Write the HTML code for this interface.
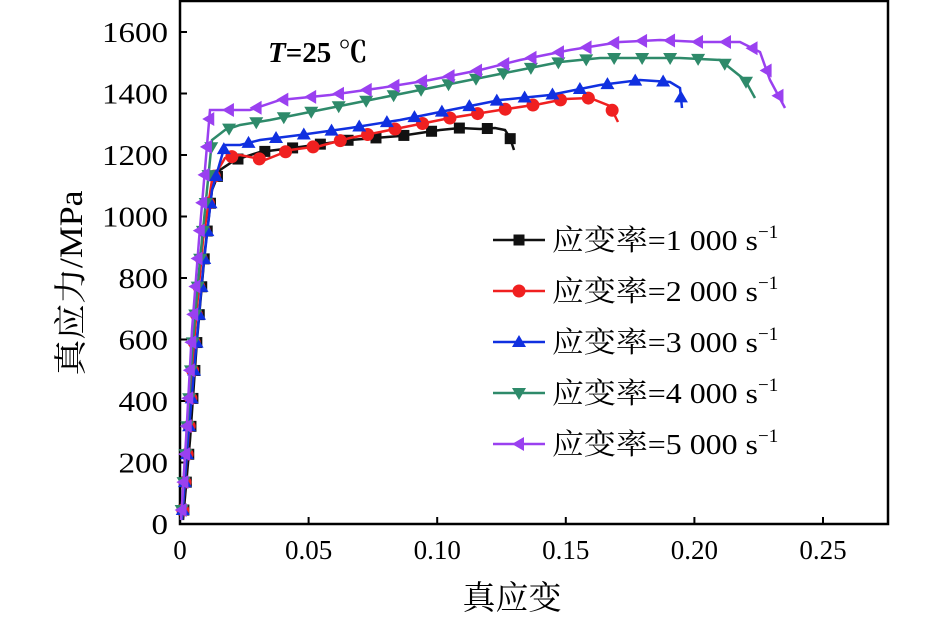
<!DOCTYPE html>
<html><head><meta charset="utf-8"><style>
html,body{margin:0;padding:0;background:#fff;}
svg{display:block;}
text{font-family:"Liberation Serif","Noto Serif CJK SC","Noto Sans CJK SC",serif;fill:#000;}
</style></head><body>
<svg id="s" width="945" height="619" viewBox="0 0 945 619" xmlns="http://www.w3.org/2000/svg">
<rect x="180" y="1" width="708" height="523" fill="none" stroke="#000" stroke-width="2.5"/>
<g id="ticks" stroke="#000" stroke-width="2"></g>
<g font-size="28" text-anchor="end" id="yl"></g>
<g font-size="27" text-anchor="middle" id="xl"></g>
<text x="268" y="62" font-size="29" font-weight="bold"><tspan font-style="italic">T</tspan>=25 ℃</text>
<text transform="translate(82,283) rotate(-90)" font-size="33" text-anchor="middle" textLength="185" lengthAdjust="spacingAndGlyphs">真应力/MPa</text>
<text x="512" y="609" font-size="33" text-anchor="middle">真应变</text>
<g id="curves"></g>
<g id="leg"></g>
</svg>
<script>
const NS="http://www.w3.org/2000/svg";
function el(t,a,p){const e=document.createElementNS(NS,t);for(const k in a)e.setAttribute(k,a[k]);p.appendChild(e);return e;}
const T=document.getElementById('ticks'),YL=document.getElementById('yl'),XL=document.getElementById('xl');
for(let i=0;i<=8;i++){const y=524-i*61.5;el('line',{x1:180,y1:y,x2:187,y2:y},T);const s=String(i*200);const t=el('text',{x:168,y:y+10,textLength:s.length*16.5,lengthAdjust:'spacingAndGlyphs'},YL);t.textContent=s;}
const xs=['0','0.05','0.10','0.15','0.20','0.25'];
for(let i=0;i<6;i++){const x=180+i*128.6;el('line',{x1:x,y1:524,x2:x,y2:517},T);const t=el('text',{x:x,y:559},XL);t.textContent=xs[i];}
const series=[
{c:'#111',m:'sq',p:[[183,520],[190,440],[197,340],[205,250],[212,190],[220,170],[235,160],[260,152],[300,147],[350,140],[400,136],[440,130],[460,128],[480,129],[495,128],[505,130],[510,138],[514,150]]},
{c:'#f02020',m:'ci',p:[[182,520],[189,430],[195,330],[203,240],[212,180],[225,158],[240,155],[265,160],[290,150],[320,146],[350,138],[400,128],[450,118],[500,110],[540,104],[565,99],[590,98],[610,106],[618,122]]},
{c:'#1030e0',m:'up',p:[[182,520],[188,440],[195,360],[203,270],[212,190],[225,145],[240,145],[260,140],[300,135],[350,128],[400,120],[450,110],[500,100],[550,95],[600,85],[640,80],[670,82],[680,88],[682,108]]},
{c:'#2e8a6a',m:'dn',p:[[181,520],[187,430],[193,340],[200,260],[212,140],[225,130],[240,125],[270,120],[320,110],[370,100],[420,90],[470,80],[520,70],[560,62],[600,58],[640,58],[680,58],[720,60],[745,80],[755,98]]},
{c:'#9a40f0',m:'lt',p:[[181,520],[186,440],[192,330],[199,240],[210,110],[225,110],[250,110],[280,100],[330,95],[380,88],[430,80],[480,70],[520,60],[570,50],[620,42],[660,40],[700,42],[740,42],[760,52],[770,80],[785,108]]}];
function marker(g,m,x,y,c){const r=7;
 if(m==='sq')el('rect',{x:x-5.5,y:y-5.5,width:11,height:11,fill:c},g);
 else if(m==='ci')el('circle',{cx:x,cy:y,r:6.5,fill:c},g);
 else if(m==='up')el('polygon',{points:`${x},${y-r} ${x-r},${y+5} ${x+r},${y+5}`,fill:c},g);
 else if(m==='dn')el('polygon',{points:`${x},${y+r} ${x-r},${y-5} ${x+r},${y-5}`,fill:c},g);
 else el('polygon',{points:`${x-r},${y} ${x+5},${y-r} ${x+5},${y+r}`,fill:c},g);}
const C=document.getElementById('curves');
series.forEach(s=>{
 el('polyline',{points:s.p.map(q=>q.join(',')).join(' '),fill:'none',stroke:s.c,'stroke-width':2.5},C);
 let acc=0,next=10;
 for(let i=1;i<s.p.length;i++){const [x0,y0]=s.p[i-1],[x1,y1]=s.p[i];const d=Math.hypot(x1-x0,y1-y0);
  while(acc+d>=next){const t=(next-acc)/d;marker(C,s.m,x0+t*(x1-x0),y0+t*(y1-y0),s.c);next+=28;}
  acc+=d;}
});
const L=document.getElementById('leg');const ly=[240,291,342,393,444];
series.forEach((s,i)=>{const y=ly[i];el('line',{x1:493,y1:y,x2:545,y2:y,stroke:s.c,'stroke-width':2.5},L);marker(L,s.m,519,y,s.c);
 const t=el('text',{x:552,y:y+10,'font-size':29},L);t.innerHTML=`<tspan textLength="206" lengthAdjust="spacingAndGlyphs">应变率=${i+1} 000 s</tspan><tspan dy="-12" font-size="19">−1</tspan>`;});
</script>
</body></html>
